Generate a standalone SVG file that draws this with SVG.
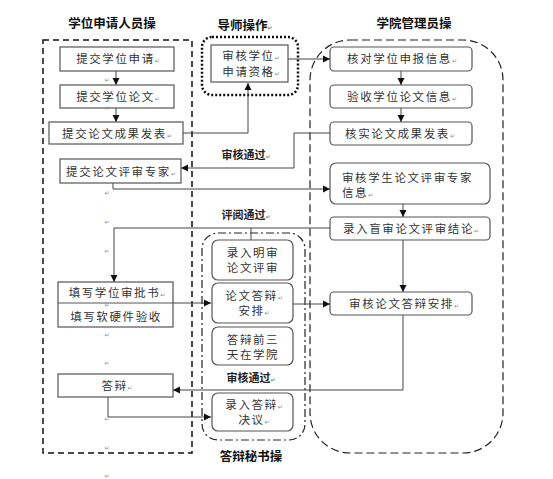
<svg xmlns="http://www.w3.org/2000/svg" width="553" height="479" viewBox="0 0 553 479">
<style>
.t{font-family:"Noto Sans CJK SC","Liberation Serif",serif;font-size:11.5px;letter-spacing:1.6px;fill:#333;text-anchor:middle}
.tl{text-anchor:start}
.h{font-family:"Noto Sans CJK SC","Liberation Sans",sans-serif;font-size:12.5px;font-weight:bold;fill:#111;text-anchor:middle}
.lb{font-family:"Noto Sans CJK SC","Liberation Sans",sans-serif;font-size:11px;font-weight:bold;fill:#222;text-anchor:middle}
.pm{font-family:"DejaVu Sans",sans-serif;font-size:6px;fill:#888;letter-spacing:0}
.pms{font-family:"DejaVu Sans",sans-serif;font-size:6px;fill:#888;text-anchor:middle}
.b{fill:#fff;stroke:#555;stroke-width:1.2}
.c{fill:none;stroke:#444;stroke-width:1}
</style>
<defs>
<marker id="ar" markerWidth="8" markerHeight="8" refX="7" refY="4" orient="auto" markerUnits="userSpaceOnUse">
<path d="M0,0.5 L7,4 L0,7.5 Z" fill="#111"/>
</marker>
</defs>

<!-- group containers -->
<g id="lane-applicant">
<rect x="43" y="40" width="149" height="413" fill="none" stroke="#111" stroke-width="1.5" stroke-dasharray="6,4"/>
<text class="h" x="112" y="28">学位申请人员操</text>
</g>
<g id="lane-tutor">
<rect x="202" y="37" width="96" height="58" rx="10" fill="none" stroke="#111" stroke-width="2.5" stroke-dasharray="2,2"/>
<text class="h" x="245" y="30">导师操作<tspan class="pm">↵</tspan></text>
</g>
<g id="lane-admin">
<rect x="310" y="40" width="193" height="413" rx="40" fill="none" stroke="#222" stroke-width="1.2" stroke-dasharray="8,4"/>
<text class="h" x="414" y="28">学院管理员操</text>
</g>
<g id="lane-secretary">
<rect x="202" y="233" width="103" height="207" rx="16" fill="none" stroke="#222" stroke-width="1.2" stroke-dasharray="8,3,2,3"/>
<text class="h" x="251" y="461">答辩秘书操</text>
</g>

<!-- connectors -->
<g id="connectors">
<line class="c" x1="116" y1="71" x2="116" y2="85" marker-end="url(#ar)"/>
<line class="c" x1="116" y1="108" x2="116" y2="122" marker-end="url(#ar)"/>
<polyline class="c" points="183,133 248,133 248,83" marker-end="url(#ar)"/>
<line class="c" x1="288" y1="59" x2="330" y2="59" marker-end="url(#ar)"/>
<line class="c" x1="401" y1="71" x2="401" y2="85" marker-end="url(#ar)"/>
<line class="c" x1="401" y1="108" x2="401" y2="122" marker-end="url(#ar)"/>
<polyline class="c" points="330,133 294,133 294,168 181,168" marker-end="url(#ar)"/>
<polyline class="c" points="113,183 113,189 330,189" marker-end="url(#ar)"/>
<line class="c" x1="403" y1="204" x2="403" y2="217" marker-end="url(#ar)"/>
<polyline class="c" points="330,228 114,228 114,282" marker-end="url(#ar)"/>
<line class="c" x1="251" y1="228" x2="251" y2="240"/>
<line class="c" x1="403" y1="240" x2="403" y2="292" marker-end="url(#ar)"/>
<line class="c" x1="173" y1="303" x2="211" y2="303" marker-end="url(#ar)"/>
<line class="c" x1="293" y1="304" x2="330" y2="304" marker-end="url(#ar)"/>
<polyline class="c" points="403,315 403,390 173,390" marker-end="url(#ar)"/>
<polyline class="c" points="108,397 108,417 211,417" marker-end="url(#ar)"/>
<text class="lb" x="246" y="159">审核通过<tspan class="pm">↵</tspan></text>
<text class="lb" x="246" y="219">评阅通过<tspan class="pm">↵</tspan></text>
<text class="lb" x="251" y="382">审核通过<tspan class="pm">↵</tspan></text>
</g>

<!-- applicant nodes -->
<g id="n-submit-apply">
<rect class="b" x="60" y="47" width="114" height="24"/>
<text class="t" x="118" y="63">提交学位申请<tspan class="pm">↵</tspan></text>
</g>
<g id="n-submit-thesis">
<rect class="b" x="60" y="85" width="114" height="23"/>
<text class="t" x="118" y="101">提交学位论文<tspan class="pm">↵</tspan></text>
</g>
<g id="n-submit-results">
<rect class="b" x="49" y="122" width="134" height="22"/>
<text class="t" x="117" y="138">提交论文成果发表<tspan class="pm">↵</tspan></text>
</g>
<g id="n-submit-experts">
<rect class="b" x="60" y="159" width="121" height="24"/>
<text class="t" x="121" y="176">提交论文评审专家<tspan class="pm">↵</tspan></text>
</g>
<g id="n-fill-forms">
<rect class="b" x="58" y="282" width="115" height="45"/>
<line x1="58" y1="303" x2="173" y2="303" stroke="#555" stroke-width="1"/>
<text class="t" x="117" y="297">填写学位审批书<tspan class="pm">↵</tspan></text>
<text class="t" x="116" y="321">填写软硬件验收</text>
</g>
<g id="n-defense">
<rect class="b" x="58" y="374" width="115" height="23"/>
<text class="t" x="117" y="390">答辩<tspan class="pm">↵</tspan></text>
</g>

<!-- tutor node -->
<g id="n-tutor-review">
<rect class="b" x="211" y="45" width="77" height="37"/>
<text class="t" x="251" y="60">审核学位<tspan class="pm">↵</tspan></text>
<text class="t" x="251" y="76">申请资格<tspan class="pm">↵</tspan></text>
</g>

<!-- admin nodes -->
<g id="n-check-apply">
<rect class="b" x="330" y="47" width="142" height="24" rx="4"/>
<text class="t" x="402" y="63">核对学位申报信息<tspan class="pm">↵</tspan></text>
</g>
<g id="n-accept-thesis">
<rect class="b" x="330" y="85" width="142" height="23" rx="4"/>
<text class="t" x="402" y="101">验收学位论文信息<tspan class="pm">↵</tspan></text>
</g>
<g id="n-verify-results">
<rect class="b" x="330" y="122" width="142" height="23" rx="4"/>
<text class="t" x="400" y="138">核实论文成果发表<tspan class="pm">↵</tspan></text>
</g>
<g id="n-review-experts">
<rect class="b" x="330" y="163" width="160" height="41" rx="6"/>
<text class="t tl" x="342" y="182">审核学生论文评审专家</text>
<text class="t tl" x="342" y="197">信息<tspan class="pm">↵</tspan></text>
</g>
<g id="n-blind-result">
<rect class="b" x="330" y="217" width="160" height="23" rx="4"/>
<text class="t" x="411" y="233">录入盲审论文评审结论<tspan class="pm">↵</tspan></text>
</g>
<g id="n-review-arrange">
<rect class="b" x="330" y="292" width="142" height="23" rx="4"/>
<text class="t" x="404" y="308">审核论文答辩安排<tspan class="pm">↵</tspan></text>
</g>

<!-- secretary nodes -->
<g id="n-open-review">
<rect class="b" x="212" y="240" width="81" height="40" rx="6"/>
<text class="t" x="253" y="257">录入明审</text>
<text class="t" x="253" y="272">论文评审</text>
</g>
<g id="n-arrange">
<rect class="b" x="212" y="283" width="81" height="40" rx="6"/>
<text class="t" x="254" y="300">论文答辩<tspan class="pm">↵</tspan></text>
<text class="t" x="254" y="315">安排<tspan class="pm">↵</tspan></text>
</g>
<g id="n-three-days">
<rect class="b" x="212" y="327" width="81" height="38" rx="6"/>
<text class="t" x="253" y="344">答辩前三</text>
<text class="t" x="253" y="359">天在学院</text>
</g>
<g id="n-record-decision">
<rect class="b" x="212" y="393" width="81" height="38" rx="6"/>
<text class="t" x="254" y="409">录入答辩<tspan class="pm">↵</tspan></text>
<text class="t" x="254" y="424">决议<tspan class="pm">↵</tspan></text>
</g>

<!-- stray paragraph marks -->
<g id="marks">
<text class="pms" x="107" y="82">↵</text>
<text class="pms" x="107" y="110">↵</text>
<text class="pms" x="107" y="195">↵</text>
<text class="pms" x="107" y="224">↵</text>
<text class="pms" x="107" y="253">↵</text>
<text class="pms" x="107" y="307">↵</text>
<text class="pms" x="107" y="337">↵</text>
<text class="pms" x="107" y="365">↵</text>
<text class="pms" x="107" y="421">↵</text>
<text class="pms" x="107" y="450">↵</text>
<text class="pms" x="107" y="478">↵</text>
</g>
</svg>
